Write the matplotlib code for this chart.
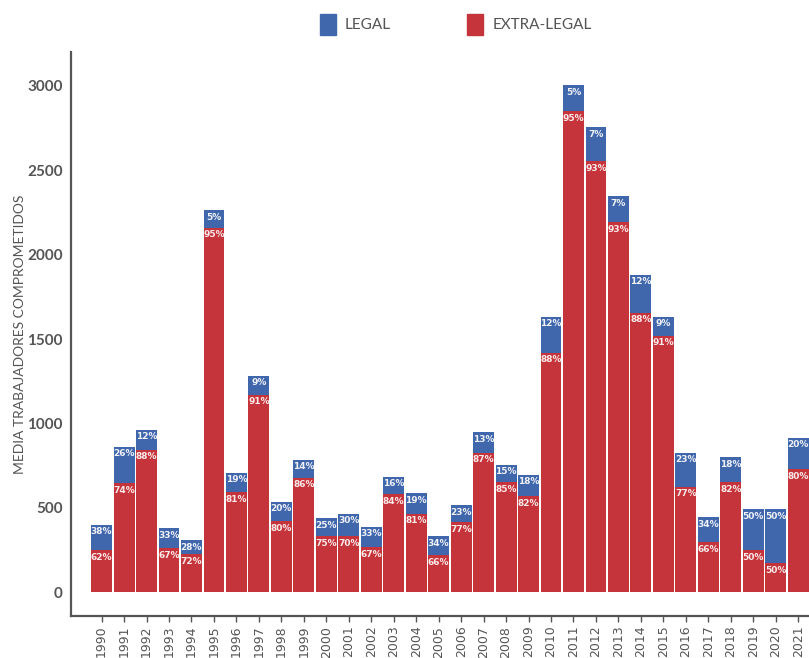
import matplotlib

matplotlib.use("Agg")
import matplotlib.pyplot as plt
from matplotlib.patches import Rectangle

years = list(range(1990, 2022))
# values (mean workers involved)
extra_legal = [249, 645, 846, 260, 225, 2160, 592, 1172, 420, 680,
               331, 331, 266, 580, 467, 219, 415, 828, 651, 568,
               1420, 2852, 2556, 2195, 1657, 1521, 627, 296, 651, 249,
               172, 728]
legal = [153, 219, 118, 119, 83, 106, 118, 112, 118, 107,
         107, 136, 124, 106, 119, 112, 100, 119, 106, 130,
         213, 154, 201, 154, 225, 112, 201, 148, 148, 242,
         319, 189]
legal_pct = [38, 26, 12, 33, 28, 5, 19, 9, 20, 14,
             25, 30, 33, 16, 19, 34, 23, 13, 15, 18,
             12, 5, 7, 7, 12, 9, 23, 34, 18, 50,
             50, 20]
extra_pct = [62, 74, 88, 67, 72, 95, 81, 91, 80, 86,
             75, 70, 67, 84, 81, 66, 77, 87, 85, 82,
             88, 95, 93, 93, 88, 91, 77, 66, 82, 50,
             50, 80]

BLUE = "#4067ac"
RED = "#c6343b"
GREY = "#555555"

plt.rcParams["font.family"] = ["Lato", "DejaVu Sans"]

fig = plt.figure(figsize=(8.09, 6.58), dpi=100)
ax = fig.add_axes([0.0878, 0.0638, 0.9122, 0.857])

x = list(range(len(years)))
ax.bar(x, extra_legal, width=0.93, color=RED, zorder=2)
ax.bar(x, legal, bottom=extra_legal, width=0.93, color=BLUE, zorder=2)

for i in x:
    total = extra_legal[i] + legal[i]
    ax.annotate(f"{legal_pct[i]}%", (i, total), xytext=(0, -2), textcoords="offset points",
                ha="center", va="top", fontsize=6.5, fontweight="bold", color="#f0f2f8",
                family="DejaVu Sans", zorder=3)
    ax.annotate(f"{extra_pct[i]}%", (i, extra_legal[i]), xytext=(0, -2), textcoords="offset points",
                ha="center", va="top", fontsize=6.5, fontweight="bold", color="#fbeaea",
                family="DejaVu Sans", zorder=3)

ax.set_xlim(-1.36, len(years) - 0.52)
ax.set_ylim(-140, 3200)
ax.set_xticks(x)
ax.set_xticklabels([str(y) for y in years], rotation=90, fontsize=9, color=GREY,
                   family="DejaVu Sans")
ax.set_yticks([0, 500, 1000, 1500, 2000, 2500, 3000])
ax.tick_params(axis="y", length=0, labelsize=11, labelcolor=GREY, pad=6)
ax.tick_params(axis="x", length=4, width=1, color=GREY, pad=3)
for lbl in ax.get_yticklabels():
    lbl.set_fontweight("bold")
ax.set_ylabel("MEDIA TRABAJADORES COMPROMETIDOS", fontsize=10, color=GREY, labelpad=0.5)

for side in ("top", "right"):
    ax.spines[side].set_visible(False)
for side in ("left", "bottom"):
    ax.spines[side].set_color(GREY)
    ax.spines[side].set_linewidth(1.6)

# legend at top
fig.patches.append(Rectangle((320 / 809, 1 - 35 / 658), 16 / 809, 21 / 658,
                             transform=fig.transFigure, color=BLUE))
fig.text(345 / 809, 1 - 25 / 658, "LEGAL", fontsize=11, color=GREY, va="center")
fig.patches.append(Rectangle((467 / 809, 1 - 35 / 658), 16 / 809, 21 / 658,
                             transform=fig.transFigure, color=RED))
fig.text(493 / 809, 1 - 25 / 658, "EXTRA-LEGAL", fontsize=11, color=GREY, va="center")

fig.savefig("out.png", dpi=100)
